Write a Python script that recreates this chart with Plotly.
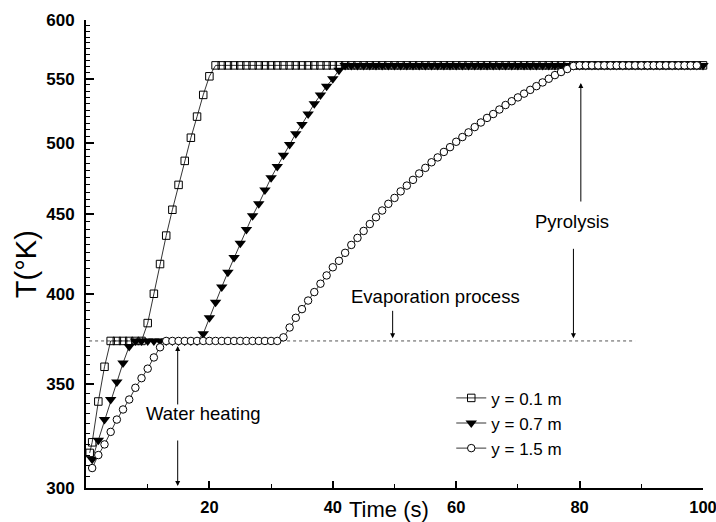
import plotly.graph_objects as go

# ---- data ----
t_sq = [0.6] + list(range(1, 101))
T_sq = [316,
        321, 341, 359, 373, 373, 373, 373, 373, 373, 383,
        400, 418, 436, 453, 470, 487, 504, 520, 537, 552,
        561, 561, 561, 561, 561, 561, 561, 561, 561, 561,
        561, 561, 561, 561, 561, 561, 561, 561, 561, 561,
        561, 561, 561, 561, 561, 561, 561, 561, 561, 561,
        561, 561, 561, 561, 561, 561, 561, 561, 561, 561,
        561, 561, 561, 561, 561, 561, 561, 561, 561, 561,
        561, 561, 561, 561, 561, 561, 561, 561, 561, 561,
        561, 561, 561, 561, 561, 561, 561, 561, 561, 561,
        561, 561, 561, 561, 561, 561, 561, 561, 561, 561]

t_tri = list(range(1, 101))
T_tri = [313, 322, 332, 342, 351, 361, 370, 373, 373, 373,
         373, 373, 373, 373, 373, 373, 373, 373, 377, 386,
         395, 404, 413, 422, 431, 440, 449, 457, 466.5, 475,
         483, 491, 499, 507, 514, 522, 530, 537, 544, 550,
         557, 561, 561, 561, 561, 561, 561, 561, 561, 561,
         561, 561, 561, 561, 561, 561, 561, 561, 561, 561,
         561, 561, 561, 561, 561, 561, 561, 561, 561, 561,
         561, 561, 561, 561, 561, 561, 561, 561, 561, 561,
         561, 561, 561, 561, 561, 561, 561, 561, 561, 561,
         561, 561, 561, 561, 561, 561, 561, 561, 561, 561]

t_cir = list(range(1, 100))
T_cir = [309, 315, 320, 326, 332, 337, 342, 348, 353, 358,
         364, 369.5, 373, 373, 373, 373, 373, 373, 373, 373,
         373, 373, 373, 373, 373, 373, 373, 373, 373, 373,
         373, 375, 380.5, 386, 391, 396, 401, 406, 411, 416,
         420, 425, 430, 434.5, 439, 443.5, 448, 452.5, 457, 461,
         465.5, 469.5, 473.5, 478, 482, 486, 489.5, 493.5, 497, 501,
         504.5, 508, 512, 515.5, 519, 522, 525.5, 529, 532, 535,
         538, 541, 544, 547, 550, 553, 555.5, 558, 560.5, 561,
         561, 561, 561, 561, 561, 561, 561, 561, 561, 561,
         561, 561, 561, 561, 561, 561, 561, 561, 561]

evap_t = [0.5, 89]
evap_T = [373, 373]

names = ["y = 0.1 m", "y = 0.7 m", "y = 1.5 m"]
y_major = [300, 350, 400, 450, 500, 550, 600]
x_major = [20, 40, 60, 80, 100]

FONT = "Liberation Sans, Arial, sans-serif"

fig = go.Figure()

fig.add_trace(go.Scatter(x=evap_t, y=evap_T, mode="lines",
                         line=dict(color="#555", width=1, dash="dot"),
                         showlegend=False, hoverinfo="skip"))

fig.add_trace(go.Scatter(x=t_sq, y=T_sq, mode="lines+markers", name=names[0],
                         line=dict(color="black", width=0.8),
                         marker=dict(symbol="square-open", size=7.5, color="black",
                                     line=dict(width=1)),
                         cliponaxis=False))
fig.add_trace(go.Scatter(x=t_tri, y=T_tri, mode="lines+markers", name=names[1],
                         line=dict(color="black", width=0.8),
                         marker=dict(symbol="triangle-down", size=10, color="black",
                                     line=dict(width=0)),
                         cliponaxis=False))
fig.add_trace(go.Scatter(x=t_cir, y=T_cir, mode="lines+markers", name=names[2],
                         line=dict(color="black", width=0.8),
                         marker=dict(symbol="circle", size=7.5, color="white",
                                     line=dict(width=1, color="black")),
                         cliponaxis=False))

minor_y = [v for v in range(305, 600, 5) if v % 50 != 0]

fig.update_xaxes(range=[0, 100], showline=True, linecolor="black", linewidth=2,
                 showgrid=False, zeroline=False, ticks="inside", ticklen=7,
                 tickwidth=1.5, tickcolor="black", tickvals=x_major,
                 tickfont=dict(family=FONT, size=16.5, color="black", weight="bold"),
                 ticklabelstandoff=3, ticklabeloverflow="allow", automargin=False,
                 minor=dict(tickvals=[10, 30, 50, 70, 90], ticks="inside",
                            ticklen=4, tickwidth=1.2, tickcolor="black"))
fig.update_yaxes(type="log", range=[2.4771213, 2.7781513], showline=True,
                 linecolor="black", linewidth=2, showgrid=False, zeroline=False,
                 ticks="inside", ticklen=8, tickwidth=1.5, tickcolor="black",
                 tickvals=y_major,
                 tickfont=dict(family=FONT, size=17, color="black", weight="bold"),
                 ticklabelstandoff=6, ticklabeloverflow="allow", automargin=False,
                 minor=dict(tickvals=minor_y, ticks="inside", ticklen=4,
                            tickwidth=1, tickcolor="black"))

ann_font = dict(family=FONT, size=18.5, color="black")
arrow = dict(showarrow=True, arrowhead=2, arrowsize=1, arrowwidth=1,
             arrowcolor="black", axref="pixel", ayref="pixel", text="")
annotations = [
    # texts
    dict(x=78.8, y=2.6483, xref="x", yref="y", text="Pyrolysis", showarrow=False,
         font=ann_font),
    dict(x=56.6, y=2.6005, xref="x", yref="y", text="Evaporation process",
         showarrow=False, font=ann_font),
    dict(x=19.1, y=2.5250, xref="x", yref="y", text="Water heating",
         showarrow=False, font=ann_font),
    # arrows
    dict(x=80.2, y=2.7376, xref="x", yref="y", ax=0, ay=120, **arrow),
    dict(x=79.0, y=2.5734, xref="x", yref="y", ax=0, ay=-91, **arrow),
    dict(x=49.7, y=2.5734, xref="x", yref="y", ax=0, ay=-29, **arrow),
    dict(x=14.86, y=2.5685, xref="x", yref="y", ax=0, ay=60, **arrow),
    dict(x=14.86, y=2.4784, xref="x", yref="y", ax=0, ay=-47, **arrow),
    # axis titles
    dict(x=0.491, y=-0.047, xref="paper", yref="paper", text="Time (s)",
         showarrow=False, font=dict(family=FONT, size=22, color="black"),
         xanchor="center", yanchor="middle"),
    dict(x=-0.0975, y=0.478, xref="paper", yref="paper", text="T(°K)",
         showarrow=False, textangle=-90, xanchor="center", yanchor="middle",
         font=dict(family=FONT, size=29, color="black")),
]

fig.update_layout(
    width=716, height=522,
    margin=dict(l=86, r=13, t=20, b=34, autoexpand=False),
    paper_bgcolor="white", plot_bgcolor="white",
    showlegend=True,
    legend=dict(x=0.592, y=0.230, xanchor="left", yanchor="top",
                font=dict(family=FONT, size=17, color="black"),
                bgcolor="rgba(0,0,0,0)", tracegroupgap=0, itemsizing="trace"),
    annotations=annotations,
)

fig.write_html("out.html")
